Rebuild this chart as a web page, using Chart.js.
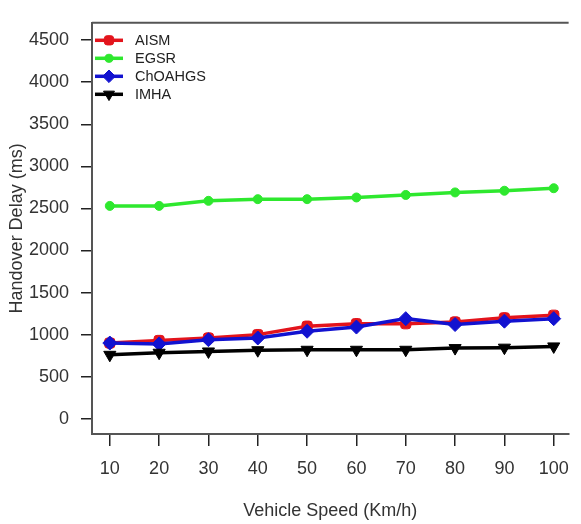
<!DOCTYPE html>
<html>
<head>
<meta charset="utf-8">
<script src="https://cdn.jsdelivr.net/npm/chart.js@4/dist/chart.umd.min.js"></script>
<style>
  html, body { margin: 0; padding: 0; background: #fff; }
  #wrap { width: 581px; height: 524px; position: relative; }
</style>
</head>
<body>
<div id="wrap"><canvas id="chart"></canvas></div>
<script>
// Vehicle speed (km/h) on the x axis
const speeds = [10, 20, 30, 40, 50, 60, 70, 80, 90, 100];

// Handover delay (ms) per scheme
const aism    = [900, 930, 960, 1000, 1100, 1130, 1130, 1150, 1200, 1230];
const egsr    = [2530, 2530, 2590, 2610, 2610, 2630, 2660, 2690, 2710, 2740];
const choahgs = [900, 890, 940, 960, 1040, 1090, 1190, 1120, 1160, 1190];
const imha    = [760, 785, 800, 815, 820, 820, 820, 840, 845, 860];

const seriesNames = ['AISM', 'EGSR', 'ChOAHGS', 'IMHA'];

// Axis tick positions
const xTicks = [10, 20, 30, 40, 50, 60, 70, 80, 90, 100];
const yTicks = [0, 500, 1000, 1500, 2000, 2500, 3000, 3500, 4000, 4500];

const FONT = 'Arial, "Liberation Sans", sans-serif';
const toPoints = (vals) => speeds.map((s, i) => ({ x: s, y: vals[i] }));

// Top frame line of the plot box
const frameTop = {
  id: 'frameTop',
  afterDraw(chart) {
    const { ctx, chartArea: a } = chart;
    ctx.save();
    ctx.strokeStyle = '#555';
    ctx.lineWidth = 2;
    ctx.beginPath();
    ctx.moveTo(a.left, a.top);
    ctx.lineTo(a.right, a.top);
    ctx.stroke();
    ctx.restore();
  }
};

// Legend with a line segment and the marker for each series
const lineLegend = {
  id: 'lineLegend',
  afterDraw(chart) {
    const { ctx, chartArea: a } = chart;
    ctx.save();
    chart.data.datasets.forEach((ds, i) => {
      const y = a.top + 17.5 + i * 18;
      const x0 = a.left + 3, x1 = a.left + 31, xm = (x0 + x1) / 2;
      ctx.strokeStyle = ds.borderColor;
      ctx.lineWidth = ds.borderWidth;
      ctx.beginPath();
      ctx.moveTo(x0, y);
      ctx.lineTo(x1, y);
      ctx.stroke();
      ctx.fillStyle = ds.pointBackgroundColor;
      ctx.strokeStyle = ds.pointBorderColor;
      ctx.lineWidth = 1;
      Chart.helpers.drawPoint(ctx, {
        pointStyle: ds.pointStyle,
        rotation: ds.pointRotation || 0,
        radius: ds.pointRadius * 0.9,
        borderWidth: 1
      }, xm, y);
      ctx.fillStyle = '#222';
      ctx.font = '14.5px ' + FONT;
      ctx.textBaseline = 'middle';
      ctx.textAlign = 'left';
      ctx.fillText(ds.label, a.left + 43, y + 1);
    });
    ctx.restore();
  }
};

function series(label, vals, color, style, radius, rotation, order) {
  return {
    label,
    data: toPoints(vals),
    borderColor: color,
    backgroundColor: color,
    pointBackgroundColor: color,
    pointBorderColor: color,
    borderWidth: 3.5,
    pointStyle: style,
    pointRadius: radius,
    pointRotation: rotation,
    pointBorderWidth: 1,
    tension: 0,
    order
  };
}

const tickFont = { family: FONT, size: 18 };
const titleFont = { family: FONT, size: 18 };

new Chart(document.getElementById('chart'), {
  type: 'line',
  data: {
    datasets: [
      series(seriesNames[0], aism,    '#e3141c', 'rectRounded', 6, 0, 4),
      series(seriesNames[1], egsr,    '#2ee82e', 'circle', 4.5, 0, 3),
      series(seriesNames[2], choahgs, '#1212d0', 'rectRot', 7, 0, 2),
      series(seriesNames[3], imha,    '#000000', 'triangle', 7, 180, 1)
    ]
  },
  options: {
    responsive: true,
    maintainAspectRatio: false,
    animation: false,
    layout: { padding: { top: 7.5, left: 0, right: 0, bottom: 0 } },
    plugins: {
      legend: { display: false },
      tooltip: { enabled: false }
    },
    scales: {
      x: {
        type: 'linear',
        min: 6.39,
        max: 103.02,
        afterFit(scale) { scale.height = 90; },
        afterBuildTicks(scale) { scale.ticks = xTicks.map(v => ({ value: v })); },
        ticks: {
          autoSkip: false,
          maxRotation: 0,
          padding: 12,
          color: '#333',
          font: tickFont,
          callback: (v) => String(v)
        },
        grid: {
          drawOnChartArea: false,
          drawTicks: true,
          tickLength: 12,
          color: '#222',
          lineWidth: 1.5
        },
        border: { display: true, color: '#555', width: 2 },
        title: {
          display: true,
          text: 'Vehicle Speed (Km/h)',
          color: '#333',
          font: titleFont,
          padding: { top: 0, bottom: 2 }
        }
      },
      y: {
        type: 'linear',
        min: -181,
        max: 4706,
        afterFit(scale) { scale.width = 92; },
        afterBuildTicks(scale) { scale.ticks = yTicks.map(v => ({ value: v })); },
        ticks: {
          autoSkip: false,
          padding: 12,
          color: '#333',
          font: tickFont,
          callback: (v) => String(v)
        },
        grid: {
          drawOnChartArea: false,
          drawTicks: true,
          tickLength: 11,
          color: '#222',
          lineWidth: 1.5
        },
        border: { display: true, color: '#555', width: 2 },
        title: {
          display: true,
          text: 'Handover Delay (ms)',
          color: '#333',
          font: titleFont,
          padding: { top: 6, bottom: 0 }
        }
      }
    }
  },
  plugins: [frameTop, lineLegend]
});
</script>
</body>
</html>
